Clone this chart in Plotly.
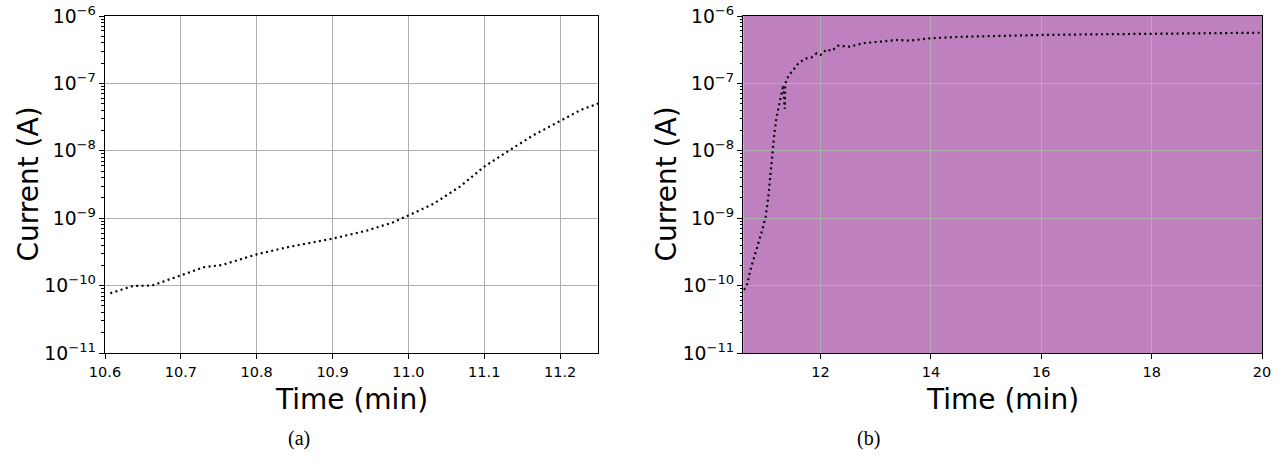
import plotly.graph_objects as go

# Panel (a): early current rise, time in minutes and current in amperes
time_a = [10.607, 10.637, 10.662, 10.699, 10.730, 10.754, 10.800, 10.840, 10.900,
          10.945, 10.980, 11.001, 11.033, 11.068, 11.100, 11.134, 11.165, 11.200,
          11.227, 11.251]
current_a = [7.7e-11, 9.9e-11, 1.0e-10, 1.39e-10, 1.87e-10, 2.02e-10, 2.91e-10,
             3.70e-10, 4.97e-10, 6.53e-10, 8.69e-10, 1.11e-09, 1.63e-09, 2.94e-09,
             5.81e-09, 1.03e-08, 1.71e-08, 2.77e-08, 4.03e-08, 5.06e-08]

# Panel (b): full run up to 20 minutes
time_b = [10.613, 10.673, 10.72, 10.78, 10.854, 10.944, 11.005, 11.054, 11.096,
          11.126, 11.163, 11.205, 11.253, 11.295, 11.325, 11.335, 11.345, 11.352,
          11.36, 11.415, 11.477, 11.537, 11.61, 11.687, 11.749, 11.839, 11.93,
          12.0, 12.11, 12.2, 12.32, 12.53, 12.77, 13.08, 13.38, 13.62, 13.98,
          14.59, 15.19, 15.79, 16.0, 17.0, 18.0, 19.0, 20.0]
current_b = [8.6e-11, 1.06e-10, 1.61e-10, 2.45e-10, 3.80e-10, 6.68e-10, 1.05e-09,
             2.09e-09, 5.19e-09, 1.03e-08, 1.82e-08, 3.21e-08, 5.06e-08, 7.53e-08,
             9.46e-08, 6.6e-08, 4.8e-08, 4.2e-08, 1.0e-07, 1.26e-07, 1.49e-07,
             1.73e-07, 2.03e-07, 2.22e-07, 2.36e-07, 2.44e-07, 2.79e-07, 2.64e-07,
             3.20e-07, 3.03e-07, 3.63e-07, 3.51e-07, 3.94e-07, 4.16e-07, 4.41e-07,
             4.31e-07, 4.67e-07, 4.93e-07, 5.11e-07, 5.22e-07, 5.23e-07, 5.35e-07,
             5.47e-07, 5.55e-07, 5.65e-07]

x_ticks_a = [10.6, 10.7, 10.8, 10.9, 11.0, 11.1, 11.2]
x_ticks_b = [12, 14, 16, 18, 20]

W, H = 1284, 464
FONT = "DejaVu Sans"
GRID = "#b0b0b0"
PURPLE_BG = "#bf80bf"


def px_x(v):
    return v / W


def px_y(v):
    return 1 - v / H


fig = go.Figure()

line_style = dict(color="black", width=2.2, dash="2px,3.4px")
fig.add_trace(go.Scatter(x=time_a, y=current_a, mode="lines", line=line_style,
                         xaxis="x", yaxis="y", showlegend=False))
fig.add_trace(go.Scatter(x=time_b, y=current_b, mode="lines", line=line_style,
                         xaxis="x2", yaxis="y2", showlegend=False))

common_x = dict(showline=True, linecolor="black", linewidth=1.2, mirror=True,
                ticks="outside", ticklen=5, tickcolor="black", tickwidth=1,
                showgrid=True, gridcolor=GRID, gridwidth=1, zeroline=False,
                automargin=False,
                tickfont=dict(family=FONT, size=14.5, color="black"))
common_y = dict(type="log", range=[-11, -6], dtick=1, exponentformat="power",
                showline=True, linecolor="black", linewidth=1.2, mirror=True,
                ticks="outside", ticklen=5, tickcolor="black", tickwidth=1,
                showgrid=True, gridcolor=GRID, gridwidth=1, zeroline=False,
                automargin=False,
                minor=dict(dtick="D1", ticks="outside", ticklen=2.5, tickcolor="black",
                           tickwidth=0.8, showgrid=False),
                tickfont=dict(family=FONT, size=15, color="black"))

y_dom = [px_y(353), px_y(16)]

fig.update_layout(
    width=W, height=H,
    margin=dict(l=0, r=0, t=0, b=0, autoexpand=False),
    paper_bgcolor="white",
    plot_bgcolor="white",
    xaxis=dict(domain=[px_x(105), px_x(598)], range=[10.6, 11.25],
               tickvals=x_ticks_a, ticktext=[f"{v:.1f}" for v in x_ticks_a],
               anchor="y", **common_x),
    yaxis=dict(domain=y_dom, anchor="x", **common_y),
    xaxis2=dict(domain=[px_x(743.3), px_x(1262)], range=[10.6, 20],
                tickvals=x_ticks_b, ticktext=[str(v) for v in x_ticks_b],
                anchor="y2", **common_x),
    yaxis2=dict(domain=y_dom, anchor="x2", **common_y),
)

# purple background of panel (b)
fig.add_shape(type="rect", xref="x2 domain", yref="y2 domain", x0=0, x1=1, y0=0, y1=1,
              fillcolor=PURPLE_BG, line=dict(width=0), layer="below")

texts = [
    dict(text="Current (A)", x=px_x(28), y=px_y(184.5), textangle=-90, size=28, family=FONT),
    dict(text="Current (A)", x=px_x(666), y=px_y(184.5), textangle=-90, size=28, family=FONT),
    dict(text="Time (min)", x=px_x(351.5), y=px_y(399), textangle=0, size=28, family=FONT),
    dict(text="Time (min)", x=px_x(1002.6), y=px_y(399), textangle=0, size=28, family=FONT),
    dict(text="(a)", x=px_x(299), y=px_y(438), textangle=0, size=20, family="Liberation Serif"),
    dict(text="(b)", x=px_x(868), y=px_y(438), textangle=0, size=20, family="Liberation Serif"),
]
for t in texts:
    fig.add_annotation(text=t["text"], x=t["x"], y=t["y"], xref="paper", yref="paper",
                       xanchor="center", yanchor="middle", textangle=t["textangle"],
                       showarrow=False,
                       font=dict(family=t["family"], size=t["size"], color="black"))

fig.write_html("out.html")
